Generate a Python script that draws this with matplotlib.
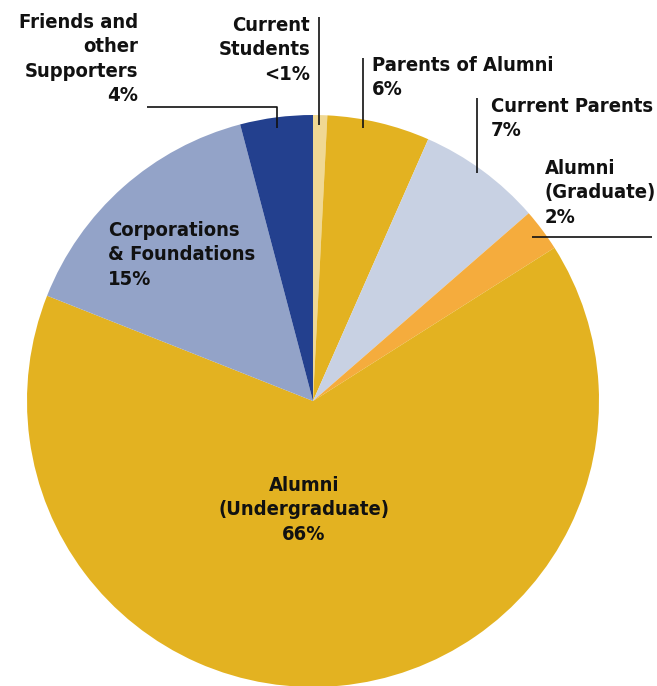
import matplotlib
matplotlib.use("Agg")
import matplotlib.pyplot as plt

categories = ["Current Students", "Parents of Alumni", "Current Parents",
              "Alumni (Graduate)", "Alumni (Undergraduate)",
              "Corporations & Foundations", "Friends and other Supporters"]
values = [0.8, 5.8, 7.0, 2.4, 65.0, 14.9, 4.1]
pct_labels = ["<1%", "6%", "7%", "2%", "66%", "15%", "4%"]
colors = ["#F0D893", "#E3B221", "#C8D1E3", "#F5AC3D", "#E3B221", "#93A3C8", "#23408E"]

W, H = 657, 686
fig = plt.figure(figsize=(W / 100, H / 100), dpi=100)
ax = fig.add_axes([0, 0, 1, 1])

def Y(y):
    return H - y

cx, cy, R = 313, 401, 286
ax.pie(values, colors=colors, startangle=90, counterclock=False,
       center=(cx, Y(cy)), radius=R, frame=True,
       wedgeprops=dict(linewidth=0))
ax.set_xlim(0, W)
ax.set_ylim(0, H)
ax.set_aspect("equal")
ax.axis("off")

fam = ["DejaVu Sans"]
fs = 14.5
ls = 1.36
tkw = dict(fontsize=fs, fontweight="bold", family=fam, fontstretch="condensed",
           color="#111111", va="top", linespacing=ls)

ax.text(138, Y(13), "Friends and\nother\nSupporters\n" + pct_labels[6], ha="right", **tkw)
ax.text(310, Y(16), "Current\nStudents\n" + pct_labels[0], ha="right", **tkw)
ax.text(372, Y(56), "Parents of Alumni\n" + pct_labels[1], ha="left", **tkw)
ax.text(491, Y(97), "Current Parents\n" + pct_labels[2], ha="left", **tkw)
ax.text(545, Y(159), "Alumni\n(Graduate)\n" + pct_labels[3], ha="left", **tkw)
ax.text(108, Y(221), "Corporations\n& Foundations\n" + pct_labels[5], ha="left", **tkw)
ax.text(304, Y(476), "Alumni\n(Undergraduate)\n" + pct_labels[4], ha="center",
        multialignment="center", **tkw)

lk = dict(color="#111111", linewidth=1.2, solid_capstyle="butt")
ax.plot([147, 277, 277], [Y(107), Y(107), Y(128)], **lk)
ax.plot([319, 319], [Y(17), Y(125)], **lk)
ax.plot([363, 363], [Y(58), Y(128)], **lk)
ax.plot([477, 477], [Y(98), Y(173)], **lk)
ax.plot([532, 652], [Y(237), Y(237)], **lk)

fig.savefig("out.png", dpi=100)
